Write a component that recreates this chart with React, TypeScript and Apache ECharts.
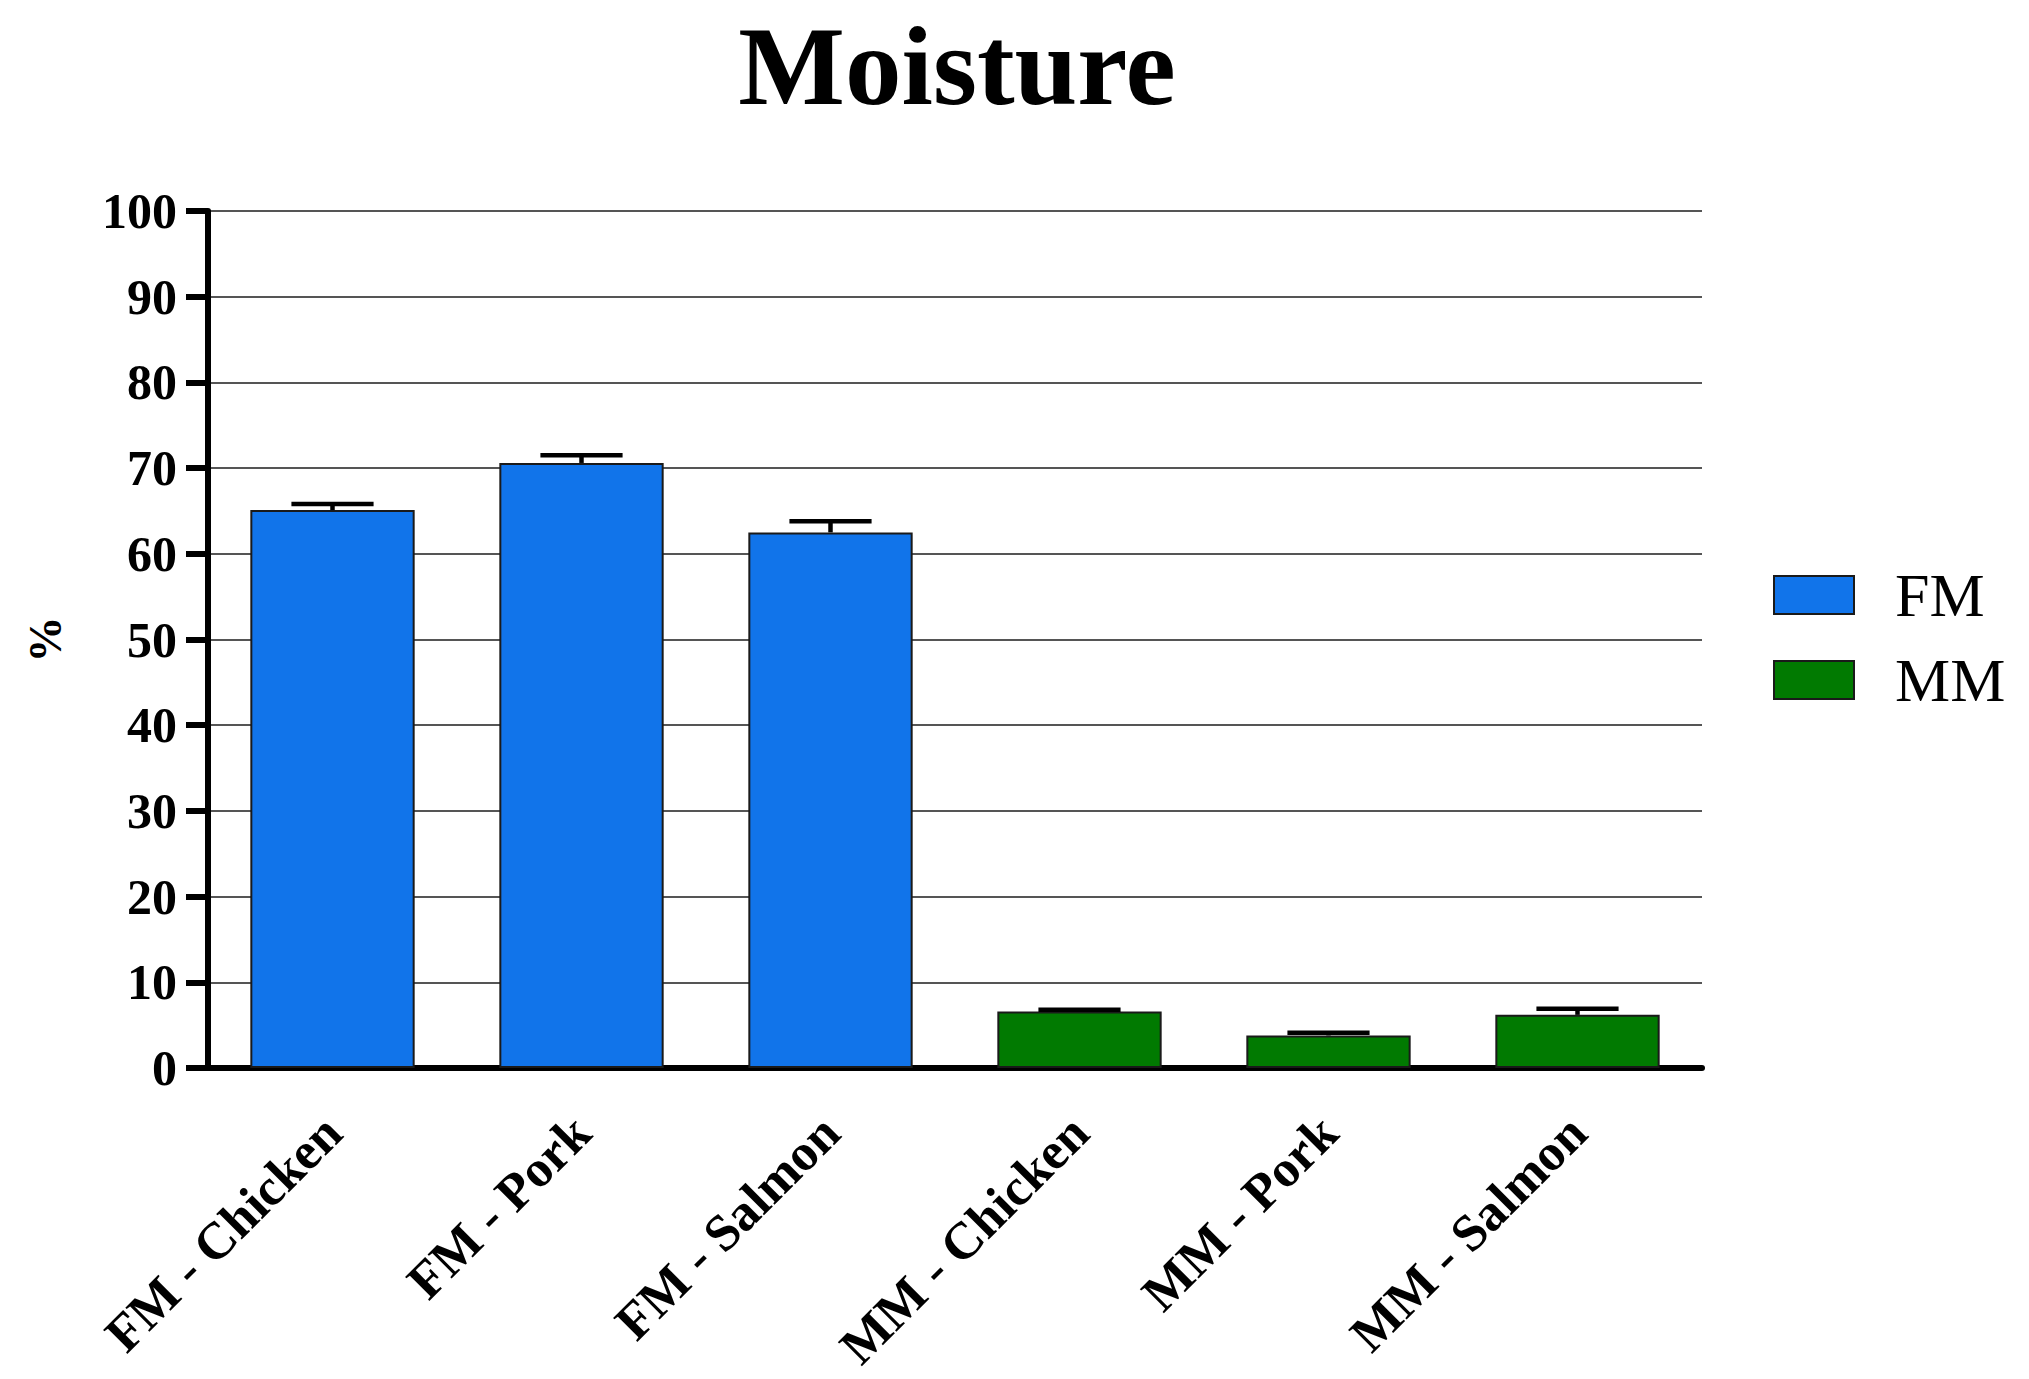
import React, { useEffect, useRef } from "react";
import * as echarts from "echarts";

const categories = ["FM - Chicken", "FM - Pork", "FM - Salmon", "MM - Chicken", "MM - Pork", "MM - Salmon"];
const groups = ["FM", "FM", "FM", "MM", "MM", "MM"];
const means = [65.1, 70.6, 62.5, 6.6, 3.8, 6.2];
const errors = [0.7, 0.9, 1.3, 0.2, 0.3, 0.7];
const yTicks = [0, 10, 20, 30, 40, 50, 60, 70, 80, 90, 100];
const groupNames = ["FM", "MM"];
const groupColors = ["#1174EA", "#017A01"];

const FONT = "'Liberation Serif', 'Times New Roman', serif";

export default function App() {
  const ref = useRef<HTMLDivElement>(null);
  useEffect(() => {
    document.body.style.margin = "0";
    const chart = echarts.init(ref.current!, null, { renderer: "svg" });
    const barSeries = groupNames.map((g, gi) => ({
      name: g,
      type: "bar",
      stack: "all",
      barWidth: "66%",
      itemStyle: { color: groupColors[gi], borderColor: "#1a1a1a", borderWidth: 2 },
      data: means.map((v, i) => (groups[i] === g ? v : "-")),
      z: 2,
    }));
    const errSeries = {
      type: "custom",
      name: "err",
      z: 5,
      data: means.map((v, i) => [i, v, v + errors[i]]),
      renderItem: (params: any, api: any) => {
        const idx = api.value(0);
        const lo = api.coord([idx, api.value(1)]);
        const hi = api.coord([idx, api.value(2)]);
        const band = api.size([1, 0])[0];
        const half = band * 0.165;
        const st = { stroke: "#000", lineWidth: 4.5 };
        return {
          type: "group",
          children: [
            { type: "line", shape: { x1: lo[0], y1: lo[1], x2: hi[0], y2: hi[1] }, style: st },
            { type: "line", shape: { x1: hi[0] - half, y1: hi[1], x2: hi[0] + half, y2: hi[1] }, style: st },
          ],
        };
      },
    };
    chart.setOption({
      animation: false,
      backgroundColor: "#fff",
      title: {
        text: "Moisture",
        left: 957,
        top: 9,
        padding: 0,
        textAlign: "center",
        textStyle: { fontFamily: FONT, fontWeight: "bold", fontSize: 113, color: "#000" },
      },
      legend: {
        data: groupNames,
        orient: "vertical",
        left: 1768,
        top: 559,
        icon: "rect",
        itemWidth: 80,
        itemHeight: 38,
        itemGap: 23,
        textStyle: { fontFamily: FONT, fontSize: 62, color: "#000", padding: [0, 0, 0, 36] },
      },
      grid: { left: 208, right: 327, top: 211, bottom: 311, containLabel: false, outerBoundsMode: "none" },
      xAxis: {
        type: "category",
        data: categories,
        axisLine: { lineStyle: { color: "#000", width: 6 } },
        axisTick: { alignWithLabel: true, length: 20, lineStyle: { color: "#000", width: 6 } },
        axisLabel: {
          rotate: 45,
          margin: 56,
          fontFamily: FONT,
          fontWeight: "bold",
          fontSize: 52,
          color: "#000",
        },
      },
      yAxis: {
        type: "value",
        min: 0,
        max: 100,
        interval: 10,
        name: "%",
        nameLocation: "middle",
        nameGap: 140,
        nameRotate: 90,
        nameTextStyle: { fontFamily: FONT, fontWeight: "bold", fontSize: 46, color: "#000" },
        axisLine: { show: true, lineStyle: { color: "#000", width: 6 } },
        axisTick: { show: true, length: 22, lineStyle: { color: "#000", width: 6 } },
        axisLabel: {
          margin: 31,
          fontFamily: FONT,
          fontWeight: "bold",
          fontSize: 50,
          color: "#000",
          formatter: (v: number) => (yTicks.includes(v) ? String(v) : ""),
        },
        splitLine: { show: true, lineStyle: { color: "#555", width: 2 } },
      },
      series: [...barSeries, errSeries],
    });
    return () => chart.dispose();
  }, []);
  return <div ref={ref} style={{ width: 2029, height: 1379 }} />;
}
